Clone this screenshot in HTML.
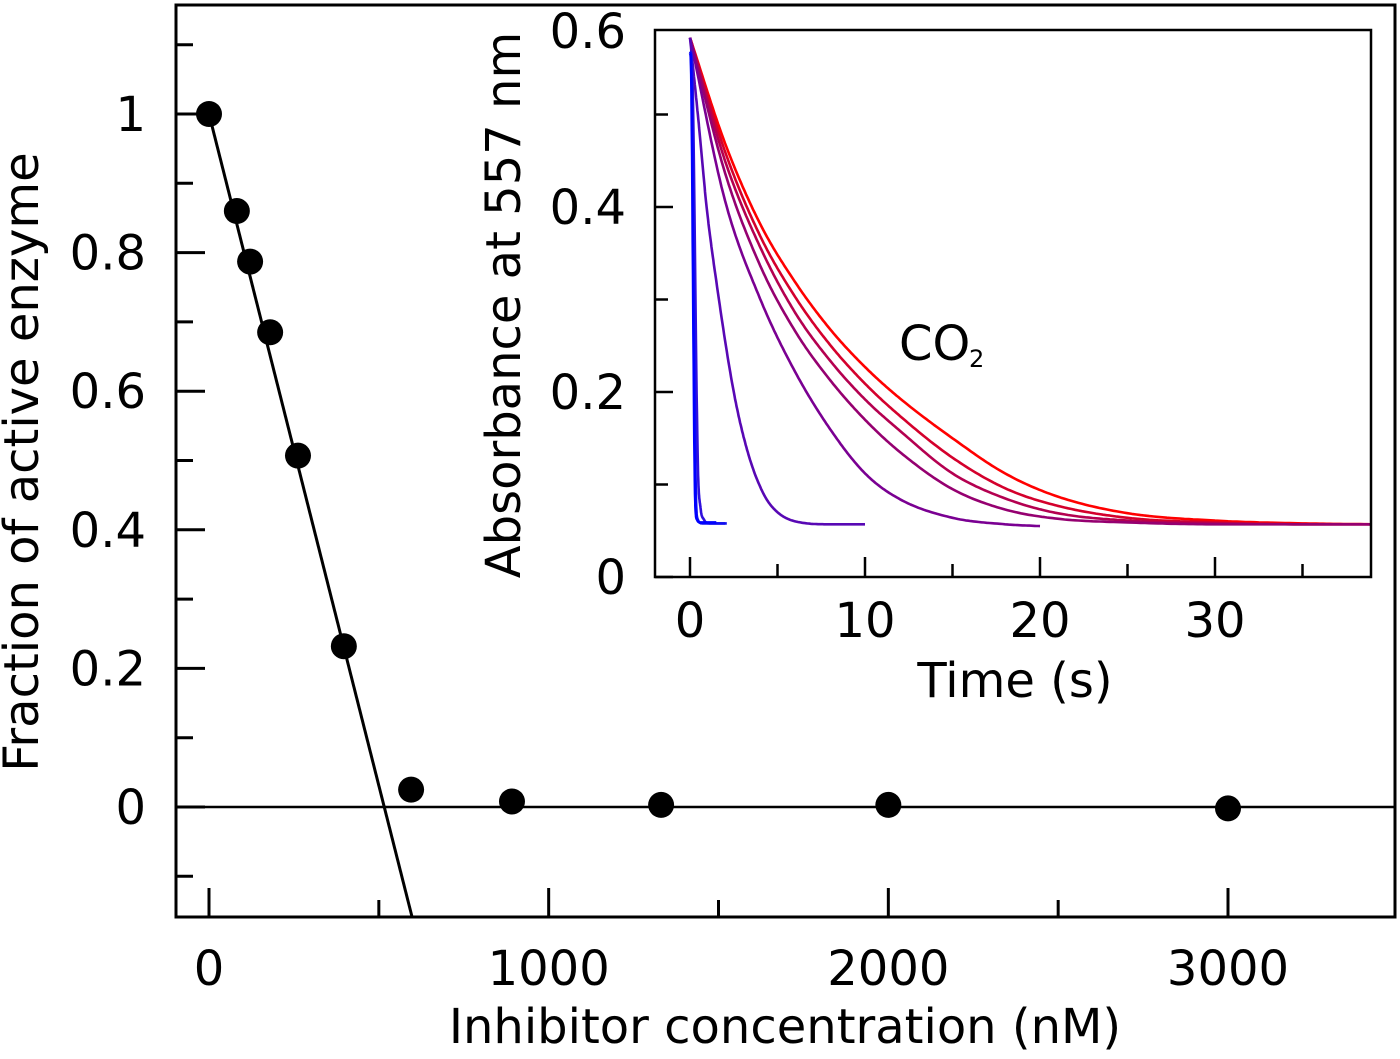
<!DOCTYPE html>
<html><head><meta charset="utf-8"><style>
html,body{margin:0;padding:0;background:#fff;}
svg{display:block;font-family:"DejaVu Sans","Liberation Sans",sans-serif;}
</style></head><body>
<svg id="chart" width="1400" height="1059" viewBox="0 0 1400 1059" xmlns="http://www.w3.org/2000/svg">
<rect width="1400" height="1059" fill="#fff"/>
<g id="main"></g>
<g id="inset"></g>
</svg>
<script>
// Main chart data
const conc = [0, 82, 121, 180, 262, 397, 595, 892, 1331, 2000, 3000];
const fraction = [1.0, 0.86, 0.787, 0.685, 0.507, 0.232, 0.025, 0.008, 0.003, 0.003, -0.002];
const fitLine = [[0, 1.0], [598, -0.159]];
const xTicks = [0, 1000, 2000, 3000];
const xMinor = [500, 1500, 2500];
const yTicks = [0, 0.2, 0.4, 0.6, 0.8, 1];
const yTickLabels = ["0", "0.2", "0.4", "0.6", "0.8", "1"];
const yMinor = [-0.1, 0.1, 0.3, 0.5, 0.7, 0.9, 1.1];
// Inset data: sampled traces (time in s, absorbance)
const gridT = [0, 2, 4, 6, 8, 10, 12, 15, 18, 21, 25, 30, 35, 38.9];
const trace1 = [0.583, 0.469, 0.382, 0.319, 0.268, 0.227, 0.193, 0.150, 0.112, 0.087, 0.069, 0.061, 0.058, 0.057];
const trace2 = [0.583, 0.460, 0.369, 0.303, 0.251, 0.209, 0.174, 0.129, 0.096, 0.077, 0.064, 0.059, 0.057, 0.057];
const trace3 = [0.583, 0.450, 0.357, 0.286, 0.234, 0.192, 0.158, 0.112, 0.085, 0.069, 0.061, 0.058, 0.057, 0.057];
const trace4 = [0.583, 0.437, 0.337, 0.266, 0.213, 0.170, 0.135, 0.095, 0.073, 0.063, 0.059, 0.057, 0.057, 0.057];
const trace5T = [0, 2, 4, 6, 8, 10, 12, 15, 18, 20];
const trace5 = [0.583, 0.407, 0.301, 0.222, 0.160, 0.112, 0.084, 0.064, 0.057, 0.055];
const trace6T = [0, 0.5, 0.95, 1.5, 2.5, 3.3, 4.2, 5, 6.3, 8, 10];
const trace6 = [0.583, 0.49, 0.40, 0.32, 0.20, 0.135, 0.090, 0.070, 0.059, 0.057, 0.057];
const trace7T = [0, 0.1, 0.45, 0.6, 0.8, 1.1, 2];
const trace7 = [0.568, 0.560, 0.12, 0.075, 0.062, 0.058, 0.058];
const trace8T = [0, 0.05, 0.35, 0.45, 0.7, 2.1];
const trace8 = [0.568, 0.565, 0.08, 0.062, 0.058, 0.058];
const trace9T = [0, 0.04, 0.3, 0.4, 0.6, 1.5];
const trace9 = [0.566, 0.562, 0.08, 0.062, 0.059, 0.059];
const traceColor = ["#ff0000","#d4002c","#b40050","#950070","#7a0092","#5808b4","#3010dc","#1010f0","#0000ff"];
const insetXTicks = [0, 10, 20, 30];
const insetXMinor = [5, 15, 25, 35];
const insetYTicks = [0, 0.2, 0.4];
const insetYTickLabels = ["0", "0.2", "0.4", "0.6"];
const insetYLabelVals = [0, 0.2, 0.4, 0.6];
const insetYMinor = [0.1, 0.3, 0.5];

const traces = [
  [gridT, trace1], [gridT, trace2], [gridT, trace3], [gridT, trace4],
  [trace5T, trace5], [trace6T, trace6], [trace7T, trace7], [trace8T, trace8], [trace9T, trace9]
];

const NS = "http://www.w3.org/2000/svg";
function mk(parent, tag, attrs, text) {
  const e = document.createElementNS(NS, tag);
  for (const k in attrs) e.setAttribute(k, attrs[k]);
  if (text !== undefined) e.textContent = text;
  parent.appendChild(e);
  return e;
}
// main axes
const M = {l:176, r:1395, t:5, b:917};
const xS = v => 209 + v * 0.33967;
const yS = v => 807 - v * 693;
const main = document.getElementById('main');

let el = mk(main, 'line', {x1:xS(fitLine[0][0]), y1:yS(fitLine[0][1]), x2:xS(fitLine[1][0]), y2:yS(fitLine[1][1]), stroke:'#000','stroke-width':3});


el = mk(main, 'line', {x1:M.l, y1:yS(0), x2:M.r, y2:yS(0), stroke:'#000','stroke-width':2.5});


conc.forEach((c, i) => {
  const p = mk(main, 'circle', {cx:xS(c), cy:yS(fraction[i]), r:13, fill:'#000'});
  
  
});
yTicks.forEach((v, i) => {
  const t = mk(main, 'line', {x1:M.l, y1:yS(v), x2:M.l+29, y2:yS(v), stroke:'#000','stroke-width':3});
  
  
  const lb = mk(main, 'text', {x:146, y:yS(v)+17, 'text-anchor':'end','font-size':48}, yTickLabels[i]);
  
  
});
yMinor.forEach(v => {
  const t = mk(main, 'line', {x1:M.l, y1:yS(v), x2:M.l+17, y2:yS(v), stroke:'#000','stroke-width':3});
  
  
});
xTicks.forEach(v => {
  const t = mk(main, 'line', {x1:xS(v), y1:M.b, x2:xS(v), y2:M.b-29, stroke:'#000','stroke-width':3});
  
  
  const lb = mk(main, 'text', {x:xS(v), y:985, 'text-anchor':'middle','font-size':48}, String(v));
  
  
});
xMinor.forEach(v => {
  const t = mk(main, 'line', {x1:xS(v), y1:M.b, x2:xS(v), y2:M.b-17, stroke:'#000','stroke-width':3});
  
  
});
el = mk(main, 'rect', {x:M.l, y:M.t, width:M.r-M.l, height:M.b-M.t, fill:'none', stroke:'#000','stroke-width':3});


el = mk(main, 'text', {x:785, y:1043, 'text-anchor':'middle','font-size':48}, 'Inhibitor concentration (nM)');


el = mk(main, 'text', {x:0, y:0, 'text-anchor':'middle','font-size':48, transform:'translate(38,462) rotate(-90)'}, 'Fraction of active enzyme');



// inset
const I = {l:655, r:1371, t:30, b:577};
const ixS = v => 690 + v * 17.5;
const iyS = v => 577 - v * 925;
const inset = document.getElementById('inset');
mk(inset, 'rect', {x:I.l, y:I.t, width:I.r-I.l, height:I.b-I.t, fill:'#fff', stroke:'none'});
// monotone cubic (Fritsch-Carlson) interpolation path
function monotonePath(xs, ys) {
  const n = xs.length, d = [], m = [];
  for (let i = 0; i < n-1; i++) d.push((ys[i+1]-ys[i])/(xs[i+1]-xs[i]));
  m[0] = d[0]; m[n-1] = d[n-2];
  for (let i = 1; i < n-1; i++) m[i] = (d[i-1]*d[i] <= 0) ? 0 : (d[i-1]+d[i])/2;
  for (let i = 0; i < n-1; i++) {
    if (d[i] === 0) { m[i] = 0; m[i+1] = 0; continue; }
    const a = m[i]/d[i], b = m[i+1]/d[i], s = a*a + b*b;
    if (s > 9) { const t = 3/Math.sqrt(s); m[i] = t*a*d[i]; m[i+1] = t*b*d[i]; }
  }
  let path = `M${ixS(xs[0]).toFixed(1)},${iyS(ys[0]).toFixed(1)}`;
  for (let i = 0; i < n-1; i++) {
    const h = xs[i+1]-xs[i];
    for (let s = 1; s <= 20; s++) {
      const t = s/20, t2 = t*t, t3 = t2*t;
      const y = (2*t3-3*t2+1)*ys[i] + (t3-2*t2+t)*h*m[i] + (-2*t3+3*t2)*ys[i+1] + (t3-t2)*h*m[i+1];
      path += ` L${ixS(xs[i]+h*t).toFixed(1)},${iyS(y).toFixed(1)}`;
    }
  }
  return path;
}
traces.forEach((tr, k) => {
  const p = mk(inset, 'path', {d:monotonePath(tr[0], tr[1]), fill:'none', stroke:traceColor[k], 'stroke-width':2.6, 'stroke-linejoin':'round'});
  
  
});
insetYTicks.forEach(v => {
  const t = mk(inset, 'line', {x1:I.l, y1:iyS(v), x2:I.l+18, y2:iyS(v), stroke:'#000','stroke-width':2.5});
  
  
});
insetYLabelVals.forEach((v, i) => {
  const lb = mk(inset, 'text', {x:626, y:Math.max(iyS(v)+17, 48), 'text-anchor':'end','font-size':48}, insetYTickLabels[i]);
  
  
});
insetYMinor.forEach(v => {
  const t = mk(inset, 'line', {x1:I.l, y1:iyS(v), x2:I.l+13, y2:iyS(v), stroke:'#000','stroke-width':2.5});
  
  
});
insetXTicks.forEach(v => {
  const t = mk(inset, 'line', {x1:ixS(v), y1:I.b, x2:ixS(v), y2:I.b-20, stroke:'#000','stroke-width':2.5});
  
  
  const lb = mk(inset, 'text', {x:ixS(v), y:637, 'text-anchor':'middle','font-size':48}, String(v));
  
  
});
insetXMinor.forEach(v => {
  const t = mk(inset, 'line', {x1:ixS(v), y1:I.b, x2:ixS(v), y2:I.b-13, stroke:'#000','stroke-width':2.5});
  
  
});
el = mk(inset, 'rect', {x:I.l, y:I.t, width:I.r-I.l, height:I.b-I.t, fill:'none', stroke:'#000','stroke-width':2.5});


el = mk(inset, 'text', {x:1015, y:697, 'text-anchor':'middle','font-size':48}, 'Time (s)');


el = mk(inset, 'text', {x:0, y:0, 'text-anchor':'middle','font-size':48, transform:'translate(520,305) rotate(-90)'}, 'Absorbance at 557 nm');


el = mk(inset, 'text', {x:899, y:360, 'font-size':48}, 'CO');


el = mk(inset, 'text', {x:969, y:367, 'font-size':24}, '2');


</script>
</body></html>
